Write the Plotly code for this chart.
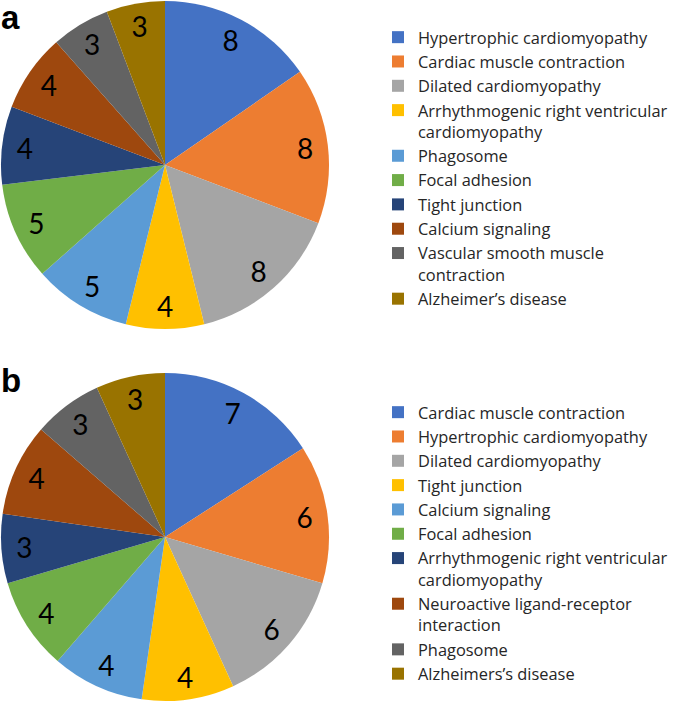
import plotly.graph_objects as go

labels_a = ["Hypertrophic cardiomyopathy", "Cardiac muscle contraction", "Dilated cardiomyopathy",
            "Arrhythmogenic right ventricular<br>cardiomyopathy", "Phagosome", "Focal adhesion",
            "Tight junction", "Calcium signaling", "Vascular smooth muscle<br>contraction",
            "Alzheimer’s disease"]
values_a = [8, 8, 8, 4, 5, 5, 4, 4, 3, 3]

labels_b = ["Cardiac muscle contraction", "Hypertrophic cardiomyopathy", "Dilated cardiomyopathy",
            "Tight junction", "Calcium signaling", "Focal adhesion",
            "Arrhythmogenic right ventricular<br>cardiomyopathy",
            "Neuroactive ligand-receptor<br>interaction", "Phagosome", "Alzheimers’s disease"]
values_b = [7, 6, 6, 4, 4, 4, 3, 4, 3, 3]

colors = ["#4472C4", "#ED7D31", "#A5A5A5", "#FFC000", "#5B9BD5",
          "#70AD47", "#264478", "#9E480E", "#636363", "#997300"]

# zero-width space keeps pie b's legend entries separate from pie a's (same visible text)
labels_b_keys = [lab + "\u200b" for lab in labels_b]

W, H = 685, 703
def px_dom(x0, x1, y0, y1):
    return dict(x=[x0 / W, x1 / W], y=[1 - y1 / H, 1 - y0 / H])

dom_a = px_dom(1, 329, 1, 329)
dom_b = px_dom(1, 329, 373, 701)
numfont = dict(family="Lato", size=28, color="#000000")

fig = go.Figure()
for labs, vals, dom, leg in [(labels_a, values_a, dom_a, "legend"),
                             (labels_b_keys, values_b, dom_b, "legend2")]:
    fig.add_trace(go.Pie(labels=labs, values=vals, sort=False, direction="clockwise",
                         rotation=0, marker=dict(colors=colors, line=dict(width=0)),
                         textinfo="none", domain=dom, legend=leg, hoverinfo="label+value"))
    # transparent ring used only to place the value labels near the rim
    fig.add_trace(go.Pie(labels=labs, values=vals, sort=False, direction="clockwise",
                         rotation=0, hole=0.72,
                         marker=dict(colors=["rgba(0,0,0,0)"] * len(vals), line=dict(width=0)),
                         textinfo="value", textposition="inside",
                         insidetextorientation="horizontal", textfont=numfont,
                         domain=dom, showlegend=False, hoverinfo="skip"))

legfont = dict(family="Open Sans", size=16.4, color="#262626")
fig.update_layout(
    width=W, height=H, margin=dict(l=0, r=0, t=0, b=0),
    paper_bgcolor="white", plot_bgcolor="white",
    legend=dict(x=378 / W, y=1 - 20 / H, xanchor="left", yanchor="top", font=legfont,
                valign="top", traceorder="normal", bgcolor="rgba(0,0,0,0)"),
    legend2=dict(x=378 / W, y=1 - 395 / H, xanchor="left", yanchor="top", font=legfont,
                 valign="top", traceorder="normal", bgcolor="rgba(0,0,0,0)"),
    annotations=[
        dict(text="<b>a</b>", x=0, y=1, xref="paper", yref="paper", xanchor="left", yanchor="top",
             showarrow=False, font=dict(family="Liberation Sans", size=33, color="#000000"),
             xshift=-1, yshift=3),
        dict(text="<b>b</b>", x=0, y=1 - 362 / H, xref="paper", yref="paper", xanchor="left",
             yanchor="top", showarrow=False,
             font=dict(family="Liberation Sans", size=33, color="#000000"), xshift=-1, yshift=2),
    ],
)
fig.write_html("out.html", config={"displayModeBar": False},
               post_script="document.body.style.margin='0';")
